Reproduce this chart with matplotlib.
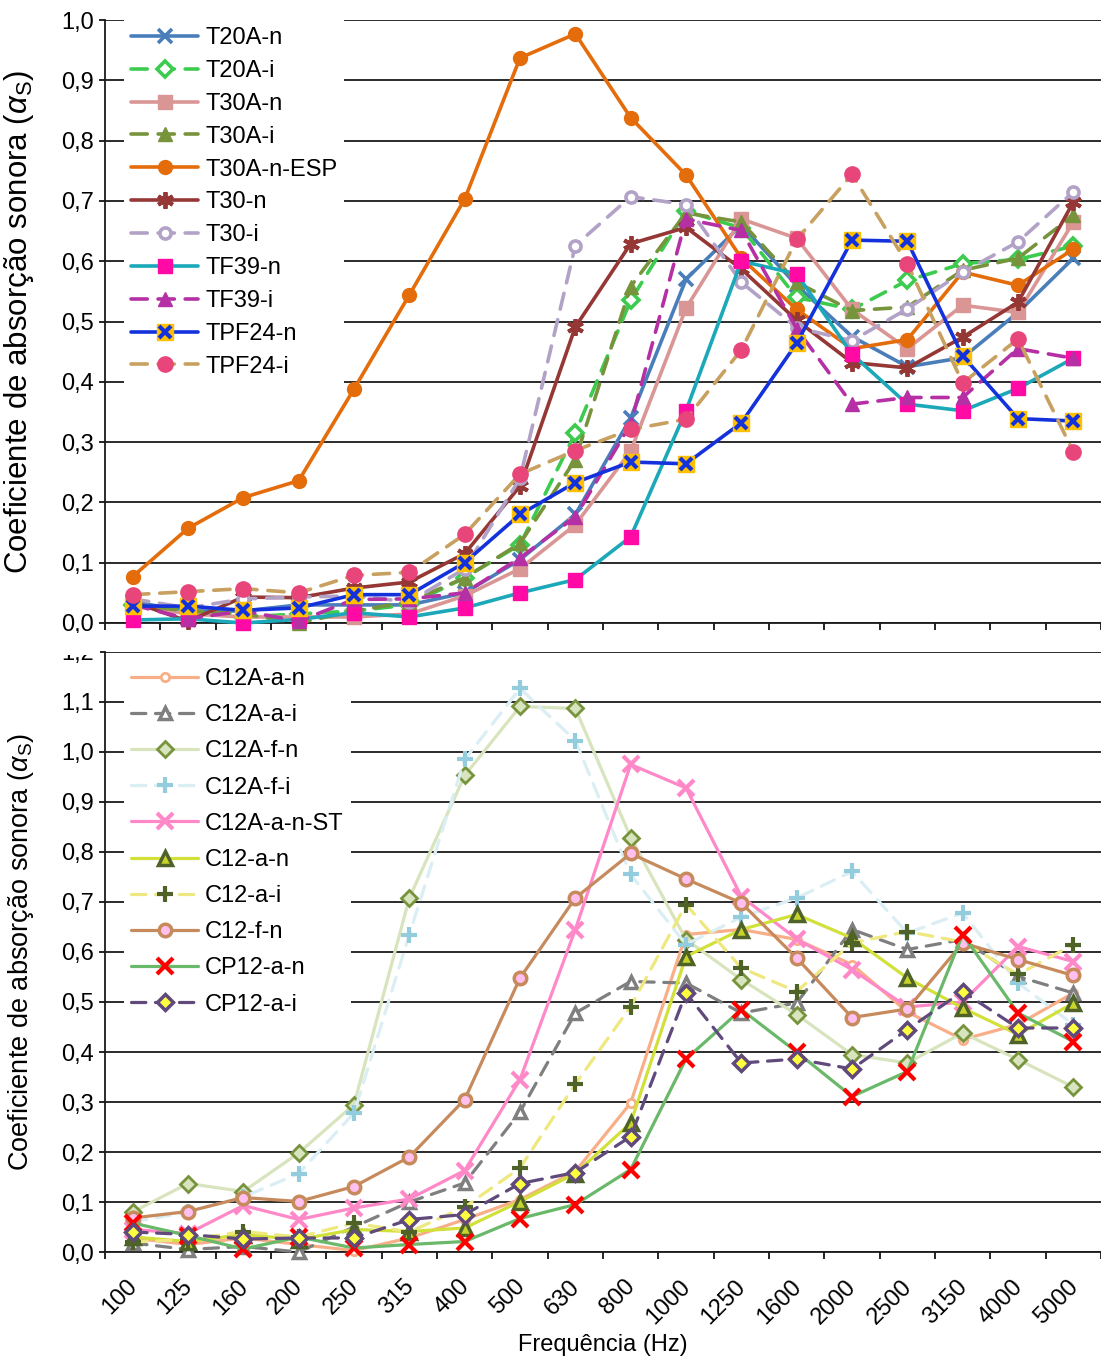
import matplotlib
matplotlib.use('Agg')
import matplotlib.pyplot as plt
from matplotlib.legend_handler import HandlerTuple
from matplotlib.patches import Rectangle
import matplotlib.transforms as mtransforms
import matplotlib.ticker as mticker

plt.rcParams['font.family'] = ['Liberation Sans', 'DejaVu Sans']
plt.rcParams['mathtext.fontset'] = 'custom'
plt.rcParams['mathtext.rm'] = 'Liberation Sans'
plt.rcParams['mathtext.it'] = 'Liberation Sans:italic'

# ---------------- data ----------------
freqs = ['100', '125', '160', '200', '250', '315', '400', '500', '630', '800',
         '1000', '1250', '1600', '2000', '2500', '3150', '4000', '5000']

# top panel
T20A_n = [0.035, 0.02, 0.02, 0.03, 0.03, 0.03, 0.05, 0.105, 0.18, 0.34, 0.57, 0.66, 0.56, 0.475, 0.425, 0.44, 0.515, 0.605]
T20A_i = [0.03, 0.02, 0.01, 0.015, 0.02, 0.03, 0.075, 0.13, 0.315, 0.535, 0.683, 0.655, 0.54, 0.52, 0.568, 0.596, 0.603, 0.625]
T30A_n = [0.03, 0.015, 0.01, 0.01, 0.01, 0.015, 0.045, 0.09, 0.163, 0.285, 0.522, 0.67, 0.638, 0.52, 0.455, 0.527, 0.515, 0.665]
T30A_i = [0.03, 0.02, 0.015, 0.0, 0.02, 0.035, 0.075, 0.132, 0.271, 0.558, 0.68, 0.665, 0.565, 0.518, 0.524, 0.585, 0.605, 0.676]
T30A_n_ESP = [0.077, 0.157, 0.208, 0.236, 0.388, 0.544, 0.703, 0.937, 0.977, 0.838, 0.743, 0.605, 0.52, 0.455, 0.47, 0.582, 0.56, 0.62]
T30_n = [0.035, 0.003, 0.043, 0.042, 0.058, 0.068, 0.115, 0.227, 0.491, 0.629, 0.656, 0.587, 0.502, 0.432, 0.423, 0.474, 0.532, 0.698]
T30_i = [0.04, 0.025, 0.04, 0.043, 0.045, 0.035, 0.09, 0.24, 0.626, 0.707, 0.694, 0.565, 0.49, 0.468, 0.521, 0.582, 0.632, 0.715]
TF39_n = [0.005, 0.007, 0.0, 0.006, 0.017, 0.01, 0.025, 0.05, 0.072, 0.143, 0.352, 0.60, 0.579, 0.446, 0.363, 0.352, 0.389, 0.439]
TF39_i = [0.03, 0.007, 0.02, 0.003, 0.039, 0.04, 0.05, 0.108, 0.176, 0.33, 0.67, 0.651, 0.488, 0.363, 0.374, 0.374, 0.455, 0.439]
TPF24_n = [0.028, 0.028, 0.021, 0.025, 0.047, 0.047, 0.1, 0.18, 0.233, 0.267, 0.264, 0.332, 0.464, 0.635, 0.633, 0.443, 0.339, 0.335]
TPF24_i = [0.047, 0.052, 0.057, 0.05, 0.079, 0.084, 0.147, 0.247, 0.286, 0.321, 0.338, 0.453, 0.636, 0.744, 0.596, 0.398, 0.471, 0.284]

# bottom panel
C12A_a_n = [0.028, 0.015, 0.028, 0.015, 0.003, 0.028, 0.065, 0.105, 0.161, 0.298, 0.635, 0.645, 0.625, 0.575, 0.48, 0.425, 0.455, 0.518]
C12A_a_i = [0.018, 0.005, 0.011, 0.0, 0.05, 0.1, 0.138, 0.28, 0.478, 0.541, 0.538, 0.478, 0.498, 0.645, 0.605, 0.625, 0.551, 0.518]
C12A_f_n = [0.08, 0.137, 0.121, 0.198, 0.295, 0.708, 0.953, 1.091, 1.087, 0.829, 0.625, 0.545, 0.475, 0.395, 0.378, 0.438, 0.385, 0.33]
C12A_f_i = [0.06, 0.08, 0.11, 0.157, 0.278, 0.635, 0.985, 1.127, 1.023, 0.755, 0.615, 0.67, 0.708, 0.761, 0.638, 0.678, 0.538, 0.455]
C12A_a_n_ST = [0.045, 0.037, 0.093, 0.065, 0.088, 0.106, 0.163, 0.345, 0.645, 0.975, 0.928, 0.711, 0.626, 0.565, 0.49, 0.5, 0.611, 0.581]
C12_a_n = [0.03, 0.021, 0.035, 0.025, 0.045, 0.041, 0.048, 0.101, 0.157, 0.258, 0.591, 0.645, 0.675, 0.628, 0.548, 0.488, 0.435, 0.498]
C12_a_i = [0.02, 0.025, 0.041, 0.03, 0.058, 0.04, 0.09, 0.168, 0.336, 0.491, 0.695, 0.568, 0.521, 0.618, 0.641, 0.62, 0.555, 0.615]
C12_f_n = [0.068, 0.081, 0.109, 0.101, 0.131, 0.19, 0.305, 0.548, 0.708, 0.797, 0.746, 0.698, 0.588, 0.469, 0.486, 0.618, 0.585, 0.553]
CP12_a_n = [0.058, 0.033, 0.006, 0.03, 0.008, 0.015, 0.021, 0.067, 0.095, 0.165, 0.386, 0.485, 0.40, 0.311, 0.361, 0.635, 0.478, 0.421]
CP12_a_i = [0.04, 0.035, 0.026, 0.028, 0.028, 0.065, 0.075, 0.137, 0.159, 0.231, 0.518, 0.378, 0.386, 0.366, 0.445, 0.521, 0.448, 0.448]

top_labels = ['T20A-n', 'T20A-i', 'T30A-n', 'T30A-i', 'T30A-n-ESP', 'T30-n', 'T30-i',
              'TF39-n', 'TF39-i', 'TPF24-n', 'TPF24-i']
top_values = [T20A_n, T20A_i, T30A_n, T30A_i, T30A_n_ESP, T30_n, T30_i,
              TF39_n, TF39_i, TPF24_n, TPF24_i]
bot_labels = ['C12A-a-n', 'C12A-a-i', 'C12A-f-n', 'C12A-f-i', 'C12A-a-n-ST',
              'C12-a-n', 'C12-a-i', 'C12-f-n', 'CP12-a-n', 'CP12-a-i']
bot_values = [C12A_a_n, C12A_a_i, C12A_f_n, C12A_f_i, C12A_a_n_ST,
              C12_a_n, C12_a_i, C12_f_n, CP12_a_n, CP12_a_i]

# ---------------- styles ----------------
DASH = (0, (4.5, 3.0))
SOLID = '-'
# label: (line color, linestyle, marker, face, edge, ms, mew)
top_styles = {
    'T20A-n': ('#4A7EBB', SOLID, 'x', '#4A7EBB', '#4A7EBB', 10, 2.6),
    'T20A-i': ('#3DCB4F', DASH, 'D', 'white', '#3DCB4F', 8, 2.6),
    'T30A-n': ('#D99694', SOLID, 's', '#D99694', '#D99694', 10, 1),
    'T30A-i': ('#77933C', DASH, '^', '#77933C', '#77933C', 10, 1),
    'T30A-n-ESP': ('#E46C0A', SOLID, 'o', '#E46C0A', '#E46C0A', 10, 1),
    'T30-n': ('#953735', SOLID, (6, 2, 0), '#953735', '#953735', 12, 2.8),
    'T30-i': ('#B3A2C7', DASH, 'o', 'white', '#B3A2C7', 8, 2.6),
    'TF39-n': ('#1BA8B8', SOLID, 's', '#FF0AA5', '#FF0AA5', 10, 1),
    'TF39-i': ('#B530A5', DASH, '^', '#B530A5', '#B530A5', 10, 1),
    'TPF24-n': ('#1432DC', SOLID, 's', '#FFC000', '#FFC000', 11, 1),
    'TPF24-i': ('#C8A060', DASH, 'o', '#E8457A', '#E8457A', 11, 1),
}
bot_styles = {
    'C12A-a-n': ('#F8AF88', SOLID, 'o', 'white', '#F8AF88', 6, 2),
    'C12A-a-i': ('#7F7F7F', DASH, '^', 'white', '#7F7F7F', 9, 2.5),
    'C12A-f-n': ('#D7E4BD', SOLID, 'D', '#D7E4BD', '#77933C', 8, 2),
    'C12A-f-i': ('#DAEEF3', DASH, '+', '#93CDDD', '#93CDDD', 12, 3),
    'C12A-a-n-ST': ('#FF88C8', SOLID, 'x', '#FF88C8', '#FF88C8', 11, 3),
    'C12-a-n': ('#D2E03A', SOLID, '^', '#C8D42C', '#4F6228', 10, 2.5),
    'C12-a-i': ('#EEE87E', DASH, '+', '#4F6228', '#4F6228', 12, 3),
    'C12-f-n': ('#C68A5C', SOLID, 'o', '#FFBFEF', '#C68A5C', 9, 2.5),
    'CP12-a-n': ('#6AB86A', SOLID, 'x', '#FF0000', '#FF0000', 11, 3),
    'CP12-a-i': ('#604A7B', DASH, 'D', '#FFFF40', '#604A7B', 8, 2.5),
}

FS = 17
W, H = 1101, 1359
fig = plt.figure(figsize=(W / 100, H / 100), dpi=100)


def rect(left, top, right, bottom):
    return [left / W, 1 - bottom / H, (right - left) / W, (bottom - top) / H]


ax1 = fig.add_axes(rect(105, 20, 1101, 623))
ax2 = fig.add_axes(rect(105, 652, 1101, 1252))
x = list(range(len(freqs)))

comma = mticker.FuncFormatter(lambda v, p: ('%.1f' % v).replace('.', ','))


def setup(ax, ymax, step_ticks, ylab_fs):
    ax.set_xlim(-0.5, -0.5 + 996 / 55.7)
    ax.set_ylim(0, ymax)
    ax.set_yticks(step_ticks)
    ax.yaxis.set_major_formatter(comma)
    ax.grid(axis='y', color='#1a1a1a', lw=1.3, zorder=0)
    ax.set_axisbelow(True)
    for s in ('top', 'right'):
        ax.spines[s].set_visible(False)
    for s in ('left', 'bottom'):
        ax.spines[s].set_linewidth(1.3)
        ax.spines[s].set_color('#1a1a1a')
    ax.set_xticks([i - 0.5 for i in range(len(freqs) + 1)], minor=True)
    ax.tick_params(axis='x', which='minor', length=5, width=1.2, direction='out')
    ax.tick_params(axis='y', length=4, width=1.2, direction='out', labelsize=FS, pad=4)
    ax.set_ylabel(r'Coeficiente de absorção sonora ($\alpha_\mathrm{S}$)', fontsize=ylab_fs)
    ax.yaxis.set_label_coords(-0.069, 0.5)


setup(ax1, 1.0, [i / 10 for i in range(11)], 22.5)
setup(ax2, 1.2, [i / 10 for i in range(13)], 19.5)
ax1.set_xticks(x)
ax1.tick_params(axis='x', which='major', length=0, labelbottom=False)
ax2.set_xticks(x)
ax2.set_xticklabels(freqs, rotation=45, ha='right', va='top', fontsize=FS)
ax2.tick_params(axis='x', which='major', length=0, pad=17)
off = mtransforms.ScaledTranslation(9 / 100, 0, fig.dpi_scale_trans)
for lab in ax2.get_xticklabels():
    lab.set_transform(lab.get_transform() + off)
ax2.set_xlabel('Frequência (Hz)', fontsize=FS)
ax2.xaxis.set_label_coords(0.5, -0.137)


def draw(ax, labels, values, styles, lw):
    handles = []
    for lab, vals in zip(labels, values):
        c, ls, m, fc, ec, ms, mew = styles[lab]
        ln, = ax.plot(x, vals, color=c, ls=ls, lw=lw, marker=m, mfc=fc, mec=ec,
                      ms=ms, mew=mew, solid_capstyle='round', dash_capstyle='round',
                      clip_on=False, zorder=3)
        if lab == 'TPF24-n':
            lx, = ax.plot(x, vals, ls='none', marker='x', ms=9, mew=3,
                          mec='#1432DC', clip_on=False, zorder=3)
            handles.append((ln, lx))
        else:
            handles.append(ln)
    return handles


h1 = draw(ax1, top_labels, top_values, top_styles, 2.6)
h2 = draw(ax2, bot_labels, bot_values, bot_styles, 2.3)

leg1 = ax1.legend(h1, top_labels, loc='upper left', bbox_to_anchor=(0.019, 1.0),
                  borderaxespad=0, fontsize=FS, handlelength=2.84, handletextpad=0.3,
                  labelspacing=0.46, frameon=True, facecolor='white', edgecolor='none',
                  framealpha=1, fancybox=False, borderpad=0.3,
                  handler_map={tuple: HandlerTuple(ndivide=1, pad=0)})
leg1.set_zorder(5)
leg2 = ax2.legend(h2, bot_labels, loc='upper left', bbox_to_anchor=(0.019, 0.985),
                  borderaxespad=0, fontsize=FS, handlelength=2.84, handletextpad=0.3,
                  labelspacing=0.6, frameon=True, facecolor='white', edgecolor='none',
                  framealpha=1, fancybox=False, borderpad=0.3)
leg2.set_zorder(5)

# partially hidden top tick label of the lower panel
fig.patches.append(Rectangle((0, 1 - 655 / H), 100 / W, 22 / H, transform=fig.transFigure,
                             facecolor='white', edgecolor='none', zorder=10))

fig.savefig('out.png', dpi=100, facecolor='white')
